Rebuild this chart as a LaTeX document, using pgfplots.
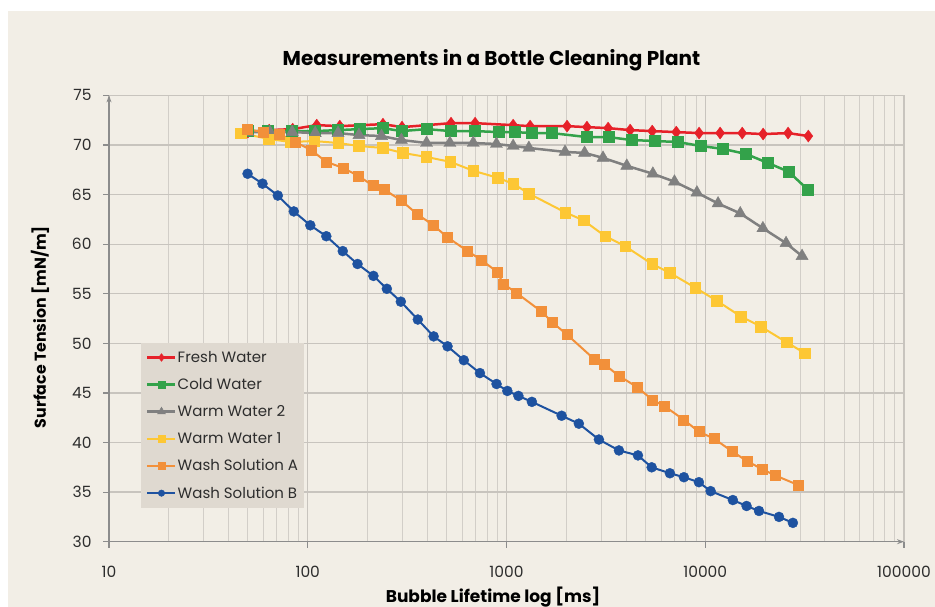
\documentclass[border=0pt]{standalone}
\usepackage{fontspec}
\setmainfont{Poppins}
\usepackage{pgfplots}
\pgfplotsset{compat=1.18}
\usetikzlibrary{arrows.meta}

\definecolor{bgcream}{RGB}{242,238,230}
\definecolor{legbg}{RGB}{223,217,208}
\definecolor{gridmaj}{RGB}{200,196,190}
\definecolor{gridmin}{RGB}{210,206,200}
\definecolor{axisc}{RGB}{140,140,140}
\definecolor{tickc}{RGB}{45,45,45}
\definecolor{cred}{RGB}{230,33,41}
\definecolor{cgreen}{RGB}{51,162,74}
\definecolor{cgray}{RGB}{128,128,128}
\definecolor{cyellow}{RGB}{253,199,52}
\definecolor{corange}{RGB}{242,144,58}
\definecolor{cblue}{RGB}{30,82,160}

\begin{document}
\begin{tikzpicture}
\fill[white] (0pt,0pt) rectangle (935pt,607pt);
\fill[bgcream] (8pt,0pt) rectangle (935pt,596pt);
\useasboundingbox (0pt,0pt) rectangle (935pt,607pt);

\begin{axis}[
    at={(109pt,65.3pt)}, anchor=south west,
    scale only axis, width=795pt, height=446.3pt,
    xmode=log, xmin=10, xmax=100000,
    ymin=30, ymax=75,
    xtick={10,100,1000,10000,100000},
    xticklabels={10,100,1000,10000,100000},
    ytick={30,35,...,75},
    axis lines=left,
    axis line style={draw=axisc, line width=1.5pt, -{Stealth[length=7pt,width=5pt]}},
    grid=both,
    major grid style={draw=gridmaj, line width=1.3pt},
    minor grid style={draw=gridmin, line width=1pt},
    tick align=outside,
    major tick length=6pt,
    minor tick length=0pt,
    tick style={draw=axisc, line width=1.2pt},
    ticklabel style={font=\fontsize{15.5}{18}\selectfont, text=tickc},
    /pgf/number format/assume math mode=true,
    yticklabel style={xshift=-8pt},
    xticklabel style={yshift=-15pt},
    legend style={at={(0.0403,0.4452)}, anchor=north west, fill=legbg, draw=none,
        font=\fontsize{15}{17}\selectfont, text=tickc,
        inner xsep=5pt, inner ysep=8pt, row sep=14.5pt,
        nodes={inner ysep=0pt, inner xsep=1pt}},
    legend cell align=left,
    legend image code/.code={\draw[mark repeat=2, mark phase=2, #1, /tikz/every mark/.append style={scale=0.65}] plot coordinates {(0pt,0pt) (14pt,0pt) (28pt,0pt)};},
]
\addplot[color=cred, line width=2.5pt, mark=diamond*, mark size=6pt, mark options={line width=0.4pt}] coordinates {
(50,71.3) (64,71.5) (84,71.6) (111,72.0) (145,71.9) (239,72.1) (298,71.8)
(526,72.2) (695,72.2) (1080,72.0) (1315,71.9) (2017,71.9) (2540,71.8)
(3245,71.7) (4190,71.5) (5410,71.4) (7150,71.3) (9310,71.2) (11880,71.2)
(15350,71.2) (19550,71.1) (26100,71.2) (33000,70.9)
};
\addlegendentry{Fresh Water}
\addplot[color=cgreen, line width=2.5pt, mark=square*, mark size=5.5pt, mark options={line width=0.4pt}] coordinates {
(50,71.4) (63,71.4) (83,71.4) (109,71.4) (142,71.5) (183,71.6) (239,71.7)
(296,71.4) (396,71.6) (526,71.4) (692,71.4) (915,71.3) (1100,71.3)
(1340,71.2) (1690,71.2) (2530,70.8) (3250,70.8) (4250,70.5) (5560,70.4)
(7270,70.3) (9480,69.9) (12300,69.6) (16000,69.1) (20600,68.2) (26300,67.3)
(32800,65.5)
};
\addlegendentry{Cold Water}
\addplot[color=cgray, line width=2.5pt, mark=triangle*, mark size=7pt, mark options={line width=0.4pt}] coordinates {
(50,71.3) (64.5,71.3) (83.5,71.3) (109,71.2) (142,71.2) (181,71.0) (235,70.9)
(296,70.5) (396,70.2) (519,70.2) (680,70.2) (890,70.1) (1080,69.9)
(1296,69.7) (1970,69.3) (2470,69.2) (3060,68.7) (4030,67.9) (5450,67.1)
(7000,66.3) (9080,65.2) (11600,64.1) (15000,63.1) (19500,61.6) (25500,60.1)
(30700,58.8)
};
\addlegendentry{Warm Water 2}
\addplot[color=cyellow, line width=2pt, mark=square*, mark size=5.3pt, mark options={line width=0.4pt}] coordinates {
(46,71.2) (63.8,70.6) (82,70.3) (107.6,70.4) (142,70.2) (181,69.9) (239,69.7)
(300,69.2) (394,68.8) (521,68.3) (681,67.4) (900,66.7) (1080,66.1)
(1296,65.1) (1978,63.2) (2440,62.4) (3140,60.8) (3950,59.8) (5400,58.0)
(6640,57.1) (8920,55.6) (11420,54.3) (15130,52.7) (19000,51.7) (25700,50.1)
(31720,49.0)
};
\addlegendentry{Warm Water 1}
\addplot[color=corange, line width=2pt, mark=square*, mark size=5pt, mark options={line width=0.4pt}] coordinates {
(49.4,71.6) (59.6,71.3) (71.9,71.1) (86.3,70.3) (103.8,69.5) (124,68.3)
(150,67.7) (179,66.9) (213,65.9) (243,65.5) (295,64.4) (357,63.0)
(429,61.9) (504,60.7) (637,59.3) (748,58.4) (898,57.2) (964,56.0)
(1119,55.1) (1502,53.2) (1703,52.1) (2011,50.9) (2763,48.4) (3097,47.9)
(3690,46.7) (4535,45.6) (5420,44.3) (6200,43.7) (7790,42.3) (9270,41.1)
(11050,40.4) (13670,39.1) (16300,38.1) (19400,37.3) (22390,36.7) (29450,35.7)
};
\addlegendentry{Wash Solution A}
\addplot[color=cblue, line width=2pt, mark=*, mark size=5pt, mark options={line width=0.4pt}] coordinates {
(49.8,67.1) (59.2,66.1) (70.7,64.9) (85.1,63.3) (103,61.9) (124,60.8)
(150,59.3) (178,58.0) (214,56.8) (250,55.5) (294,54.2) (358,52.4)
(430,50.7) (505,49.7) (610,48.3) (735,47.0) (891,45.9) (1010,45.2)
(1148,44.7) (1342,44.1) (1894,42.7) (2312,41.9) (2917,40.3) (3680,39.2)
(4585,38.7) (5375,37.5) (6640,36.9) (7810,36.5) (9290,36.0) (10640,35.1)
(13770,34.2) (16140,33.6) (18640,33.1) (23500,32.5) (27600,31.9)
};
\addlegendentry{Wash Solution B}
\end{axis}

\node[font=\bfseries\fontsize{20}{24}\selectfont] at (491.5pt,547pt) {Measurements in a Bottle Cleaning Plant};
\node[rotate=90, font=\bfseries\fontsize{15.8}{18}\selectfont] at (40pt,280pt) {Surface Tension [mN/m]};
\node[anchor=base, font=\bfseries\fontsize{17}{20}\selectfont] at (493pt,4.5pt) {Bubble Lifetime log [ms]};
\end{tikzpicture}
\end{document}
